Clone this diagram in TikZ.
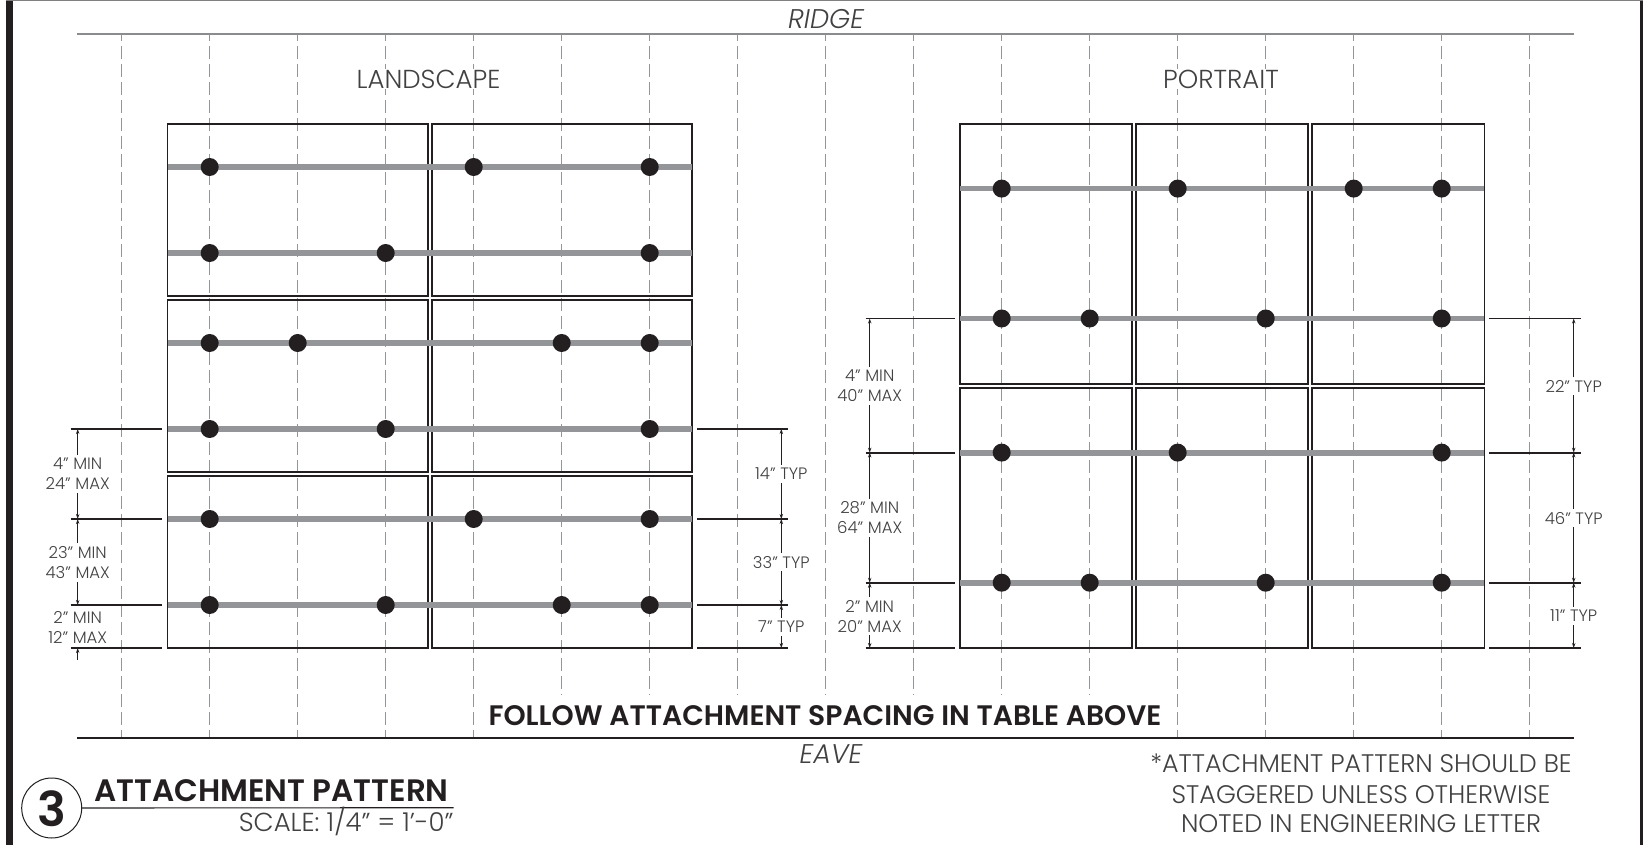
\documentclass[tikz,border=0pt]{standalone}
\usepackage{fontspec}
\setmainfont{Poppins Light}
\newfontfamily\heavyfont{Poppins SemiBold}
\newfontfamily\slantfont{Poppins Light Italic}
\usetikzlibrary{arrows.meta}
\definecolor{ink}{HTML}{231F20}
\definecolor{railgray}{HTML}{939598}
\definecolor{txtgray}{HTML}{414042}
\definecolor{dashgray}{HTML}{8A8C8E}
\definecolor{seamgray}{HTML}{939598}
\tikzset{
  x=1pt,y=-1pt,
  panel/.style={draw=ink,line width=1.8pt},
  rail/.style={draw=railgray,line width=5.8pt},
  dot/.style={circle,fill=ink,inner sep=0pt,minimum size=18pt},
  seam/.style={draw=seamgray,line width=1.1pt,dash pattern=on 13.3pt off 4.7pt,dash phase=5.8pt},
  tick/.style={draw=ink,line width=1.8pt},
  dimline/.style={draw=ink,line width=1pt,{Stealth[length=5pt,width=3.4pt]}-{Stealth[length=5pt,width=3.4pt]}},
  dimlabel/.style={fill=white,inner xsep=1pt,inner ysep=3pt,text=txtgray,font=\fontsize{16.5}{20}\selectfont,align=center},
  heading/.style={fill=white,inner xsep=2pt,inner ysep=1pt,text=txtgray,font=\fontsize{26}{30}\selectfont},
  slanted/.style={text=txtgray,font=\slantfont\fontsize{27}{30}\selectfont,inner sep=0pt,anchor=base},
  plainline/.style={inner sep=0pt,anchor=base,text=txtgray,font=\fontsize{25.4}{30}\selectfont},
}
\begin{document}
\begin{tikzpicture}
\useasboundingbox (0,0) rectangle (1643,845);
\fill[white] (0,0) rectangle (1643,845);
% frame
\fill[ink] (6.3,0) rectangle (12.6,845);
\fill[ink] (1639.5,0) rectangle (1643,845);
\draw[draw=gray,line width=1pt] (6,0.5) -- (1643,0.5);
% ridge and eave
\coordinate (ridgeL) at (77,33.8); \coordinate (ridgeR) at (1574,33.8);
\coordinate (eaveL) at (77,738); \coordinate (eaveR) at (1574,738);
% seams
\foreach \k in {0,...,16}{
  \coordinate (st\k) at ({121.7+88*\k},33.8);
  \coordinate (sb\k) at ({121.7+88*\k},738);
  \draw[seam] (st\k) -- (sb\k);
}
\draw[draw=dashgray,line width=1.6pt] (ridgeL) -- (ridgeR);
\draw[draw=ink,line width=1.1pt] (eaveL) -- (eaveR);
% white field behind the note
\fill[white] (484,695) rectangle (1166,737);
% headings
\node[heading] (landscape) at (428.5,79) {LANDSCAPE};
\node[heading] (portrait) at (1221,79) {PORTRAIT};
\node[slanted] (ridge) at (826,28.5) {RIDGE};
\node[slanted] (eave) at (831,763.5) {EAVE};
% landscape panels
\foreach \n/\xa/\xb/\ya/\yb in {la/167.5/428/124/296,lb/431.7/692/124/296,lc/167.5/428/300/472,ld/431.7/692/300/472,le/167.5/428/476/648,lf/431.7/692/476/648}{
  \draw[panel] (\xa,\ya) rectangle (\xb,\yb);
}
% portrait panels
\foreach \n/\xa/\xb/\ya/\yb in {pa/960/1132/124/384,pb/1136/1308/124/384,pc/1312/1484.4/124/384,pd/960/1132/388/648,pe/1136/1308/388/648,pf/1312/1484.4/388/648}{
  \draw[panel] (\xa,\ya) rectangle (\xb,\yb);
}
% rails
\foreach \n/\y in {1/167,2/253,3/343,4/429,5/519,6/605}{
  \coordinate (lrs\n) at (167.5,\y); \coordinate (lre\n) at (692,\y);
  \draw[rail] (lrs\n) -- (lre\n);
}
\foreach \n/\y in {1/188.6,2/318.5,3/452.6,4/582.7}{
  \coordinate (prs\n) at (960,\y); \coordinate (pre\n) at (1484.4,\y);
  \draw[rail] (prs\n) -- (pre\n);
}
% dots
\foreach \y/\list in {167/{1,4,6},253/{1,3,6},343/{1,2,5,6},429/{1,3,6},519/{1,4,6},605/{1,3,5,6},188.6/{10,12,14,15},318.5/{10,11,13,15},452.6/{10,12,15},582.7/{10,11,13,15}}{
  \foreach \k in \list { \node[dot] at ({121.7+88*\k},\y) {}; }
}
% dimension ticks, landscape
\foreach \n/\y/\w in {1/429/1.8,2/519/2,3/605/2,4/648/1.4}{
  \coordinate (lla\n) at (70.7,\y); \coordinate (llb\n) at (162.3,\y);
  \coordinate (lra\n) at (697,\y); \coordinate (lrb\n) at (787.5,\y);
  \coordinate (lld\n) at (77.7,\y); \coordinate (lrd\n) at (781.3,\y);
  \draw[tick,line width=\w pt] (lla\n) -- (llb\n);
  \draw[tick,line width=\w pt] (lra\n) -- (lrb\n);
}
% dimension ticks, portrait
\foreach \n/\y/\w in {1/318.5/1.8,2/452.6/2,3/582.7/2,4/648/1.4}{
  \coordinate (pla\n) at (865.5,\y); \coordinate (plb\n) at (954.5,\y);
  \coordinate (pra\n) at (1489,\y); \coordinate (prb\n) at (1580.6,\y);
  \coordinate (pld\n) at (869.7,\y); \coordinate (prd\n) at (1573.7,\y);
  \draw[tick,line width=\w pt] (pla\n) -- (plb\n);
  \draw[tick,line width=\w pt] (pra\n) -- (prb\n);
}
% dimension lines
\draw[dimline] (lld1) -- (lld2);
\draw[dimline] (lld2) -- (lld3);
\draw[dimline,{Stealth[length=5pt,width=3.4pt]}-] (lld4) -- ++(0,12);
\draw[dimline] (lrd1) -- (lrd2);
\draw[dimline] (lrd2) -- (lrd3);
\draw[dimline] (lrd3) -- (lrd4);
\draw[dimline] (pld1) -- (pld2);
\draw[dimline] (pld2) -- (pld3);
\draw[dimline] (pld3) -- (pld4);
\draw[dimline] (prd1) -- (prd2);
\draw[dimline] (prd2) -- (prd3);
\draw[dimline] (prd3) -- (prd4);
% dimension labels
\node[dimlabel] (a1) at (77.7,474) {4" MIN\\24" MAX};
\node[dimlabel] (a2) at (77.7,562.5) {23" MIN\\43" MAX};
\node[dimlabel] (a3) at (77.7,627.5) {2" MIN\\12" MAX};
\node[dimlabel] (b1) at (781.3,474) {14" TYP};
\node[dimlabel] (b2) at (781.3,562.3) {33" TYP};
\node[dimlabel] (b3) at (781.3,627) {7" TYP};
\node[dimlabel] (c1) at (869.7,386) {4" MIN\\40" MAX};
\node[dimlabel] (c2) at (869.7,518) {28" MIN\\64" MAX};
\node[dimlabel] (c3) at (869.7,616) {2" MIN\\20" MAX};
\node[dimlabel] (d1) at (1573.7,386) {22" TYP};
\node[dimlabel] (d2) at (1573.7,518) {46" TYP};
\node[dimlabel] (d3) at (1573.7,616) {11" TYP};
% note
\node[inner sep=0pt,anchor=base,text=ink,font=\heavyfont\fontsize{28.2}{30}\selectfont] (note) at (825,725.7) {FOLLOW ATTACHMENT SPACING IN TABLE ABOVE};
% title block
\node[circle,draw=ink,line width=1pt,minimum size=60pt,inner sep=0pt] (badge) at (51.7,808) {};
\node[inner sep=0pt,anchor=base,text=ink,font=\heavyfont\fontsize{48}{50}\selectfont] (num) at (51.7,826.7) {3};
\coordinate (ulE) at (453.7,807.7);
\draw[draw=ink,line width=1.1pt] (badge.east) -- (ulE);
\node[inner sep=0pt,anchor=base west,text=ink,font=\heavyfont\fontsize{31}{34}\selectfont] (title) at (94,801.7) {ATTACHMENT PATTERN};
\node[inner sep=0pt,anchor=base east,text=txtgray,font=\fontsize{26}{30}\selectfont] (scale) at (453.7,831) {SCALE: 1/4" = 1'-0"};
% footnote
\node[plainline] (f1) at (1361,772.3) {*ATTACHMENT PATTERN SHOULD BE};
\node[plainline] (f2) at (1361,803) {STAGGERED UNLESS OTHERWISE};
\node[plainline] (f3) at (1361,832.7) {NOTED IN ENGINEERING LETTER};
\end{tikzpicture}
\end{document}
